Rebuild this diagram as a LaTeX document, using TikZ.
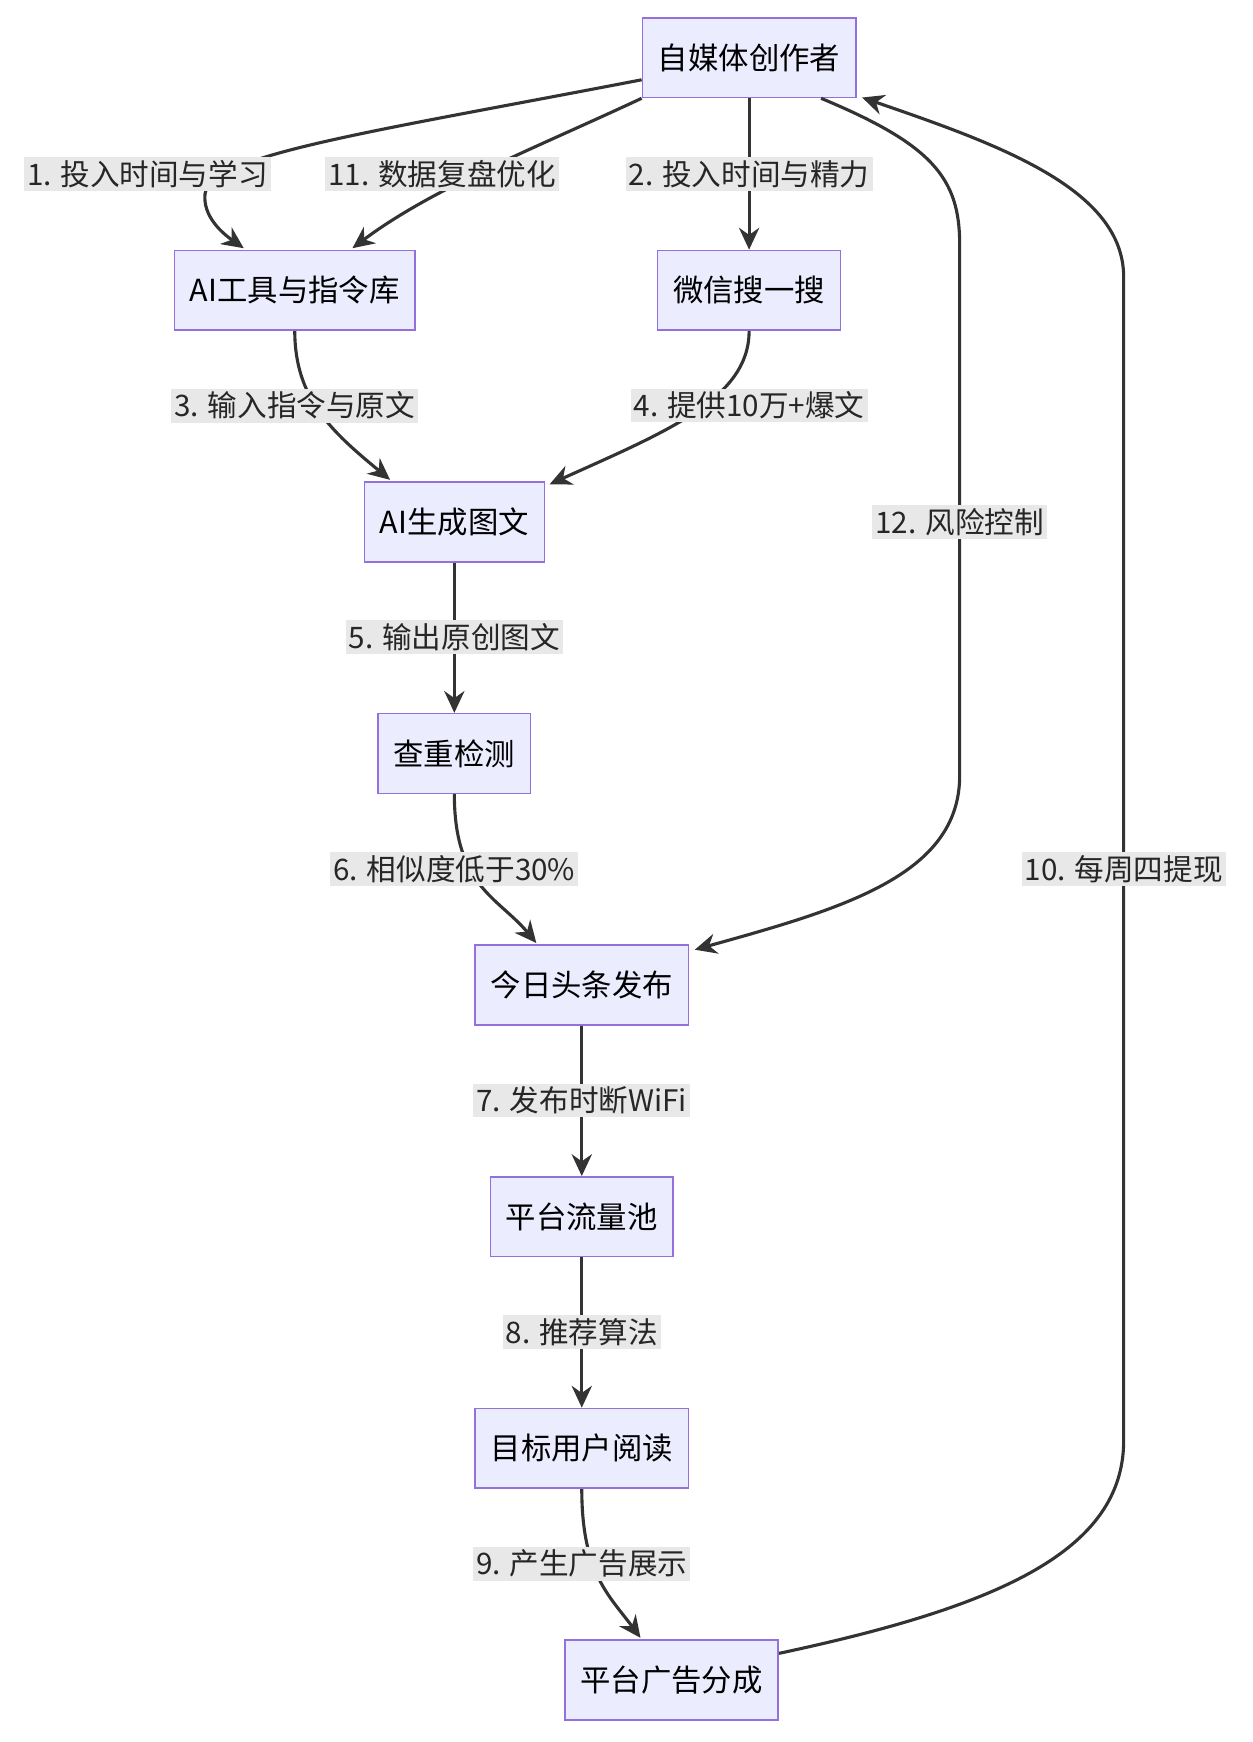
\documentclass[tikz,border=0pt]{standalone}
\usepackage{fontspec}
\setmainfont{Noto Sans CJK SC}
\definecolor{boxfill}{HTML}{ECECFF}
\definecolor{boxline}{HTML}{9370DB}
\definecolor{edgecol}{HTML}{333333}
\definecolor{lblfill}{HTML}{E8E8E8}
\tikzset{
  box/.style={draw=boxline, fill=boxfill, line width=1pt, minimum height=1.8cm, inner xsep=0.35cm, font=\fontsize{19.5}{23}\selectfont},
  lbl/.style={fill=lblfill, inner sep=2pt, font=\fontsize{19}{22}\selectfont, text=black!85},
  edge/.style={draw=edgecol, line width=2pt, -{Stealth[length=14pt,width=13pt]}}
}
\usetikzlibrary{arrows.meta}
\begin{document}
\begin{tikzpicture}[x=0.025cm,y=-0.025cm]
\useasboundingbox (0,0) rectangle (1130,1572);

% nodes
\node[box] (creator) at (676,52) {自媒体创作者};
\node[box] (tools) at (266,262) {AI工具与指令库};
\node[box] (wx) at (676,262) {微信搜一搜};
\node[box] (gen) at (410,471) {AI生成图文};
\node[box] (check) at (410,680) {查重检测};
\node[box] (pub) at (525,889) {今日头条发布};
\node[box] (pool) at (525,1098) {平台流量池};
\node[box] (read) at (525,1307) {目标用户阅读};
\node[box] (share) at (606,1516) {平台广告分成};

% connectors
\draw[edge] ([yshift=-0.5cm]creator.west) .. controls (330,120) and (190,140) .. (185,175) .. controls (183,195) and (200,210) .. (220,224);
\draw[edge] (creator.south west) .. controls (480,135) and (390,170) .. (318,224);
\draw[edge] (creator) -- (wx);
\draw[edge] (tools.south) .. controls (266,360) and (300,390) .. (352,433);
\draw[edge] (wx.south) .. controls (676,360) and (600,390) .. (496,437);
\draw[edge] (gen) -- (check);
\draw[edge] (check.south) .. controls (410,800) and (450,810) .. (484,851);
\draw[edge] ([xshift=-0.8cm]creator.south east) .. controls (840,130) and (866,160) .. (866,220) -- (866,700) .. controls (866,790) and (760,820) .. (627,857);
\draw[edge] (pub) -- (pool);
\draw[edge] (pool) -- (read);
\draw[edge] (read.south) .. controls (525,1420) and (550,1440) .. (578,1478);
\draw[edge] ([yshift=0.6cm]share.east) .. controls (900,1450) and (1014,1400) .. (1014,1300) -- (1014,250) .. controls (1014,170) and (900,130) .. (778,88);

% labels
\node[lbl] (l1) at (133,157) {1. 投入时间与学习};
\node[lbl] (l11) at (399,157) {11. 数据复盘优化};
\node[lbl] (l2) at (676,157) {2. 投入时间与精力};
\node[lbl] (l3) at (266,366) {3. 输入指令与原文};
\node[lbl] (l4) at (676,366) {4. 提供10万+爆文};
\node[lbl] (l5) at (410,575) {5. 输出原创图文};
\node[lbl] (l6) at (410,784) {6. 相似度低于30\%};
\node[lbl] (l12) at (866,471) {12. 风险控制};
\node[lbl] (l10) at (1014,784) {10. 每周四提现};
\node[lbl] (l7) at (525,993) {7. 发布时断WiFi};
\node[lbl] (l8) at (525,1202) {8. 推荐算法};
\node[lbl] (l9) at (525,1411) {9. 产生广告展示};

\end{tikzpicture}
\end{document}
